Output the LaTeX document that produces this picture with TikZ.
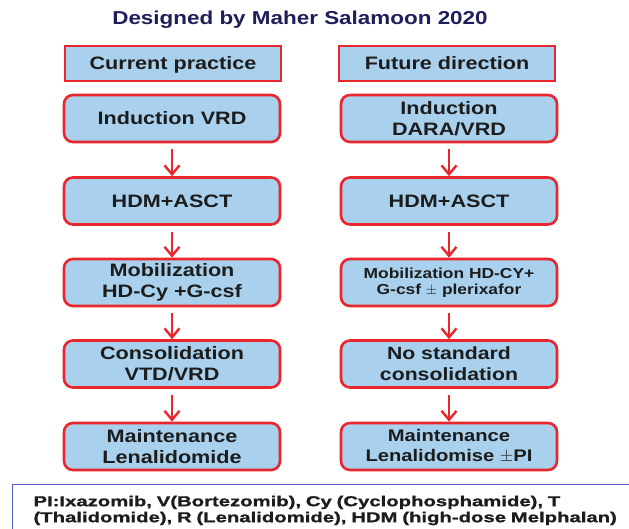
\documentclass[tikz,border=0pt]{standalone}
\usepackage{fontspec}
\setmainfont[FakeStretch=1.2]{Liberation Sans}
\newfontfamily\legendfont[FakeStretch=1.42, BoldFeatures={FakeBold=1.2}]{Liberation Sans}
\usetikzlibrary{arrows.meta}
\definecolor{boxfill}{HTML}{A9D1EE}
\definecolor{boxline}{HTML}{E8262C}
\definecolor{titleblue}{HTML}{1E1E5A}
\definecolor{txt}{HTML}{1C1C1C}
\definecolor{legline}{HTML}{5A5ACF}
\begin{document}
\begin{tikzpicture}[x=1pt,y=-1pt,
  headbox/.style={draw=boxline, line width=2.6pt, fill=boxfill, minimum width=216pt,
    minimum height=35pt, inner sep=0pt, text height=13pt, text depth=0pt,
    font=\fontsize{18}{21}\selectfont\bfseries, text=txt},
  stepbox/.style={draw=boxline, line width=2.6pt, fill=boxfill, rounded corners=9pt,
    minimum width=216pt, minimum height=47pt, inner sep=0pt, align=center,
    font=\fontsize{18}{21}\selectfont\bfseries, text=txt},
  flow/.style={draw=boxline, line width=2.4pt, shorten <=6pt,
    -{Straight Barb[length=9pt,width=15pt,line width=2.4pt]}}
]
\useasboundingbox (0,0) rectangle (629,529);

% title
\node[font=\fontsize{18.7}{21}\selectfont\bfseries, text=titleblue] (title) at (300,20)
  {Designed by Maher Salamoon 2020};

% column headers
\node[headbox] (hL) at (173,63.5) {Current practice};
\node[headbox] (hR) at (447,63.5) {Future direction};

% current practice
\node[stepbox] (L1) at (172,118.5) {Induction VRD};
\node[stepbox] (L2) at (172,201) {HDM+ASCT};
\node[stepbox] (L3) at (172,282.5) {Mobilization\\HD-Cy +G-csf};
\node[stepbox] (L4) at (172,364) {Consolidation\\VTD/VRD};
\node[stepbox] (L5) at (172,446.5) {Maintenance\\Lenalidomide};

% future direction
\node[stepbox] (R1) at (449,118.5) {Induction\\DARA/VRD};
\node[stepbox] (R2) at (449,201) {HDM+ASCT};
\node[stepbox, font=\fontsize{14.5}{16}\selectfont\bfseries] (R3) at (449,282.5)
  {Mobilization HD-CY+\\G-csf $\pm$ plerixafor};
\node[stepbox, font=\fontsize{17.7}{21}\selectfont\bfseries] (R4) at (449,364)
  {No standard\\consolidation};
\node[stepbox, font=\fontsize{16.8}{20}\selectfont\bfseries] (R5) at (449,446.5)
  {Maintenance\\Lenalidomise $\pm$PI};

\foreach \a/\b in {L1/L2,L2/L3,L3/L4,L4/L5,R1/R2,R2/R3,R3/R4,R4/R5}
  \draw[flow] (\a.south) -- (\b.north);

% abbreviations
\node[draw=legline, line width=1pt, fill=white, anchor=north west, minimum width=640pt,
  minimum height=52pt, inner sep=0pt, inner xsep=0pt, align=left, text width=620pt,
  font=\legendfont\fontsize{14.3}{16}\selectfont\bfseries, text=txt] (legend) at (12,484)
  {\hspace*{11pt}PI:Ixazomib, V(Bortezomib), Cy (Cyclophosphamide), T\\
   \hspace*{11pt}(Thalidomide), R (Lenalidomide), HDM (high-dose Melphalan)};
\end{tikzpicture}
\end{document}
